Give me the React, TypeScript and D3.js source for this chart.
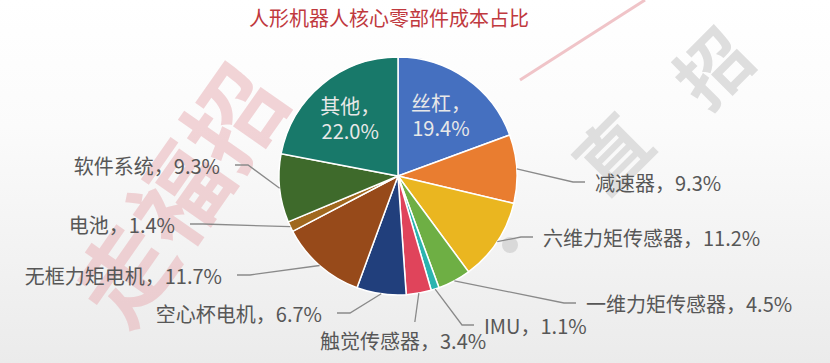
import React from 'react';
import * as d3 from 'd3';

const categories = ['丝杠', '减速器', '六维力矩传感器', '一维力矩传感器', 'IMU', '触觉传感器', '空心杯电机', '无框力矩电机', '电池', '软件系统', '其他'];
const shares = [19.4, 9.3, 11.2, 4.5, 1.1, 3.4, 6.7, 11.7, 1.4, 9.3, 22.0];
const colors = ['#4570C0', '#E97D30', '#EAB620', '#6EAF44', '#2BB4AF', '#E0445B', '#213F7C', '#974A1A', '#A0681E', '#3E6A2B', '#18796A'];
// where each label sits: inside the slice, or outside to the right / left / below
const labelMode = ['inside', 'right', 'right', 'right', 'right', 'below', 'left', 'left', 'left', 'left', 'inside'];
// outside label anchors relative to the pie centre (px)
const labelOffsets: [number, number][] = [[0, 0], [197, 6], [145, 61], [188, 127], [86, 149], [-78, 164], [-76, 137], [-176, 99], [-223, 48], [-178, -11], [0, 0]];

const W = 830;
const H = 363;
const cx = 398;
const cy = 176;
const r = 119;
const font = '"Noto Sans CJK SC", "Noto Sans", sans-serif';

export default function App() {
  const pie = d3.pie<number>().value((d) => d).sort(null);
  const arcs = pie(shares);
  const arc = d3.arc<d3.PieArcDatum<number>>().innerRadius(0).outerRadius(r);
  const edge = d3.arc<d3.PieArcDatum<number>>().innerRadius(r).outerRadius(r);
  const inner = d3.arc<d3.PieArcDatum<number>>().innerRadius(r * 0.63).outerRadius(r * 0.63);
  const line = d3.line();

  const fmt = (v: number) => v.toFixed(1) + '%';

  return (
    <svg width={W} height={H} style={{ position: 'absolute', left: 0, top: 0, display: 'block' }}>
      <defs>
        <linearGradient id="bg" x1="0" y1="0" x2="0" y2="1">
          <stop offset="0" stopColor="#ffffff" />
          <stop offset="0.35" stopColor="#fbfbfb" />
          <stop offset="1" stopColor="#ebebeb" />
        </linearGradient>
      </defs>
      <rect width={W} height={H} fill="url(#bg)" />

      {/* watermark */}
      <g fontFamily={font} fontWeight="bold">
        <text x={0} y={0} fontSize={95} fill="#e9b3b8" opacity={0.55}
          transform="translate(175,192) rotate(-55)" textAnchor="middle" dominantBaseline="central">走福招</text>
        <line x1={645} y1={0} x2={520} y2={80} stroke="#f0c4c8" strokeWidth={3} />
        <text fontSize={72} fill="#dedede" textAnchor="middle" dominantBaseline="central"
          transform="translate(710,65) rotate(-45)">招</text>
        <text fontSize={72} fill="#dedede" textAnchor="middle" dominantBaseline="central"
          transform="translate(610,150) rotate(-45)">直</text>
        <circle cx={510} cy={245} r={8} fill="#d9d9d9" />
      </g>

      <text x={389} y={17} textAnchor="middle" dominantBaseline="central" fontFamily={font}
        fontSize={20} fill="#C0393E">人形机器人核心零部件成本占比</text>

      <g transform={`translate(${cx},${cy})`}>
        {arcs.map((a, i) => (
          <path key={i} d={arc(a) || ''} fill={colors[i]} stroke="#ffffff" strokeWidth={1.5} />
        ))}

        {arcs.map((a, i) => {
          const mode = labelMode[i];
          const label = categories[i] + '，' + fmt(shares[i]);
          if (mode === 'inside') {
            const [x, y] = inner.centroid(a);
            return (
              <g key={i} fontFamily={font} fontSize={20} fill="#e8e8e8">
                <text x={x} y={y - 12.5} textAnchor="middle" dominantBaseline="central">{categories[i] + '，'}</text>
                <text x={x} y={y + 12.5} textAnchor="middle" dominantBaseline="central">{fmt(shares[i])}</text>
              </g>
            );
          }
          const [ex, ey] = edge.centroid(a);
          const [tx, ty] = labelOffsets[i];
          let pts: [number, number][];
          let anchor = 'start';
          if (mode === 'right') {
            pts = [[ex, ey], [tx - 22, ty], [tx - 10, ty]];
          } else if (mode === 'left') {
            pts = [[ex, ey], [tx + 28, ty], [tx + 15, ty]];
            anchor = 'end';
          } else {
            pts = [[ex, ey], [ex - 4, ty - 18]];
          }
          return (
            <g key={i}>
              <path d={line(pts) || ''} fill="none" stroke="#8a8a8a" strokeWidth={1.3} />
              <text x={tx} y={ty} textAnchor={anchor} dominantBaseline="central" fontFamily={font}
                fontSize={20} fill="#575757">{label}</text>
            </g>
          );
        })}
      </g>
    </svg>
  );
}
